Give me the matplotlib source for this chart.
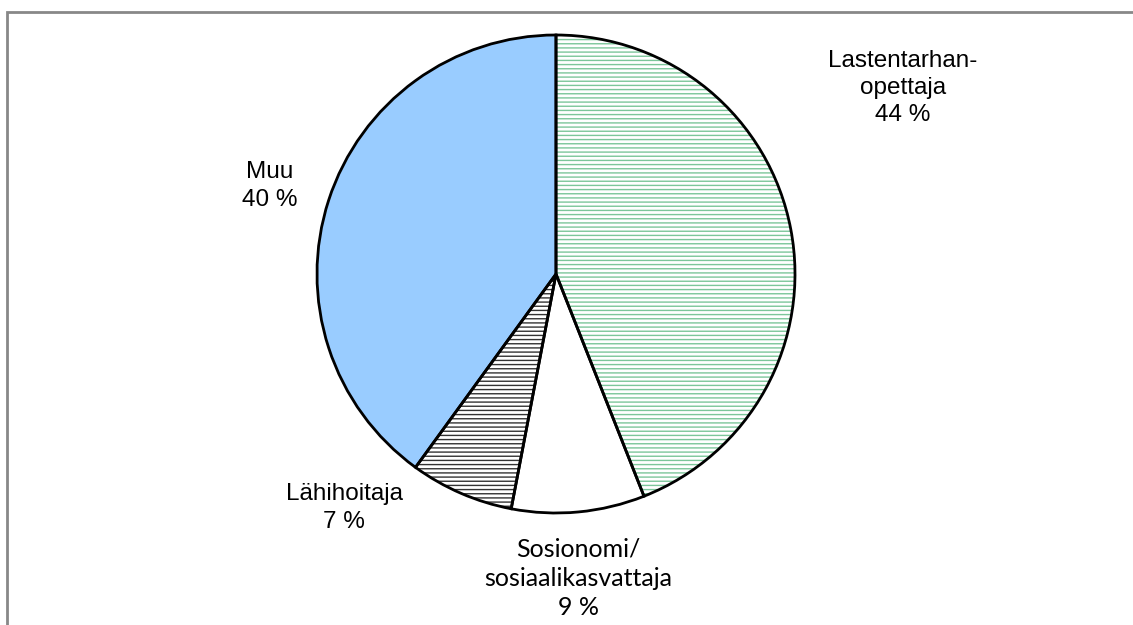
import matplotlib
matplotlib.use("Agg")
import matplotlib.pyplot as plt
from matplotlib.patches import Rectangle

# share of staff by education (clockwise from 12 o'clock)
labels = ["Lastentarhan-\nopettaja", "Sosionomi/\nsosiaalikasvattaja", "Lähihoitaja", "Muu"]
values = [44, 9, 7, 40]
face_colors = ["white", "white", "white", "#99ccff"]
hatches = ["----", "", "----", ""]
hatch_colors = ["#7cc69a", "white", "#333333", "#99ccff"]

W, H = 1133, 625
fig = plt.figure(figsize=(W / 100, H / 100), dpi=100)
ax = fig.add_axes([0, 0, 1, 1])

center = (556, H - 274)
radius = 239

# hatched fills first (hatch colour follows edge colour), outlines on top
wedges, _ = ax.pie(values, startangle=90, counterclock=False, center=center,
                   radius=radius, colors=face_colors, frame=True)
for w, h, hc in zip(wedges, hatches, hatch_colors):
    w.set_hatch(h)
    w.set_edgecolor(hc)
    w.set_linewidth(0)
outl, _ = ax.pie(values, startangle=90, counterclock=False, center=center,
                 radius=radius, frame=True,
                 wedgeprops=dict(fill=False, edgecolor="black", linewidth=2))
ax.set_xlim(0, W)
ax.set_ylim(0, H)
ax.set_aspect("equal")
ax.axis("off")

font = dict(family="Liberation Sans", fontsize=17.5, ha="center", va="center",
            linespacing=1.32)
ax.text(903, H - 88, f"{labels[0]}\n{values[0]} %", **font)
ax.text(270, H - 186, f"{labels[3]}\n{values[3]} %", **font)
ax.text(344, H - 508, f"{labels[2]}\n{values[2]} %", **font)
ax.text(578, H - 578, f"{labels[1]}\n{values[1]} %",
        **{**font, "family": "Lato", "fontsize": 18})

ax.add_patch(Rectangle((7, -20), W + 20, H - 12 + 20, fill=False,
                       edgecolor="#888888", linewidth=2, clip_on=False))

fig.savefig("out.png", dpi=100)
